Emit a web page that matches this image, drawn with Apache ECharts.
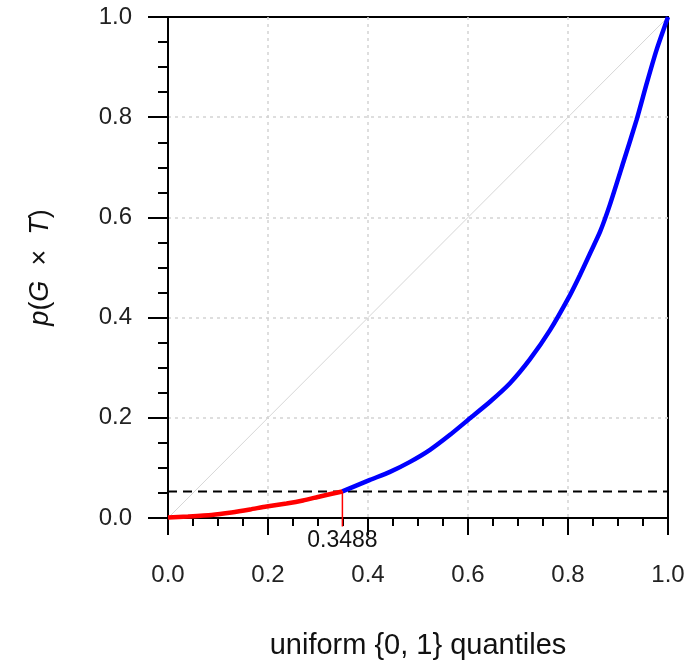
<!DOCTYPE html>
<html>
<head lang="en">
    <meta charset="UTF-8">
    <title>eCharts</title>
    <script type="text/javascript" src="https://cdn.jsdelivr.net/npm/echarts@6/dist/echarts.min.js"></script>
    <style>
        html, body { margin: 0; padding: 0; background: #fff; }
        #myChart { width: 696px; height: 662px; }
    </style>
</head>
<body>
<div id="myChart"></div>
<script type="text/javascript">
    /* 分位点 */
    var redX  = [0, 0.04, 0.087, 0.127, 0.164, 0.197, 0.237, 0.27, 0.304, 0.3488];
    var redY  = [0.001, 0.003, 0.006, 0.011, 0.017, 0.023, 0.029, 0.035, 0.043, 0.053];
    var blueX = [0.3488, 0.404, 0.444, 0.484, 0.524, 0.564, 0.604, 0.644, 0.684, 0.724, 0.764, 0.804, 0.824, 0.844, 0.864, 0.884, 0.911, 0.937, 0.957, 0.977, 1];
    var blueY = [0.053, 0.076, 0.092, 0.112, 0.136, 0.166, 0.199, 0.232, 0.269, 0.317, 0.375, 0.445, 0.485, 0.528, 0.571, 0.626, 0.711, 0.794, 0.866, 0.934, 1];
    var cutX = 0.3488;
    var cutY = 0.053;
    var tickLabels = ['0.0', '0.2', '0.4', '0.6', '0.8', '1.0'];

    function pairs(xs, ys) {
        var out = [];
        for (var i = 0; i < xs.length; i++) {
            out.push([xs[i], ys[i]]);
        }
        return out;
    }

    var font = 'Liberation Sans, Arial, sans-serif';
    var lbl = function (v) { return tickLabels[Math.round(v * 5)]; };
    var dotted = { show: true, showMinLine: false, showMaxLine: false,
                   lineStyle: { color: '#d4d4d4', width: 1.5, type: [3, 4] } };

    var myChart = echarts.init(document.getElementById('myChart'));
    myChart.setOption({
        animation: false,
        grid: {
            left: 168, right: 28, top: 17, bottom: 144,
            outerBoundsMode: 'none',
            show: true, borderColor: '#000', borderWidth: 2
        },
        xAxis: {
            type: 'value', min: 0, max: 1, interval: 0.2,
            name: 'uniform {0, 1} quantiles',
            nameLocation: 'middle', nameGap: 113,
            nameTextStyle: { fontFamily: font, fontSize: 29, color: '#111' },
            axisLine: { lineStyle: { color: '#000', width: 2 } },
            axisTick: { inside: false, length: 17, lineStyle: { color: '#000', width: 2 } },
            minorTick: { show: true, splitNumber: 4, length: 8, lineStyle: { color: '#000', width: 2 } },
            axisLabel: { margin: 45, fontFamily: font, fontSize: 24, color: '#222', formatter: lbl },
            splitLine: dotted
        },
        yAxis: {
            type: 'value', min: 0, max: 1, interval: 0.2,
            name: '{i|p}{n|(}{i|G}{n|  ×  }{i|T}{n|)}',
            nameLocation: 'middle', nameGap: 114, nameRotate: 90,
            nameTextStyle: {
                rich: {
                    i: { fontFamily: font, fontSize: 27, fontStyle: 'italic', color: '#111' },
                    n: { fontFamily: font, fontSize: 27, color: '#111' }
                }
            },
            axisLine: { lineStyle: { color: '#000', width: 2 } },
            axisTick: { inside: false, length: 20, lineStyle: { color: '#000', width: 2 } },
            minorTick: { show: true, splitNumber: 4, length: 10, lineStyle: { color: '#000', width: 2 } },
            axisLabel: { margin: 36, fontFamily: font, fontSize: 24, color: '#222', formatter: lbl },
            splitLine: dotted
        },
        series: [
            {   /* 对角线 */
                type: 'line', data: [[0, 0], [1, 1]], symbol: 'none', silent: true,
                lineStyle: { color: '#d6d6d6', width: 1 }
            },
            {   /* 水平虚线 */
                type: 'line', data: [[0, cutY], [1, cutY]], symbol: 'none', silent: true,
                lineStyle: { color: '#000', width: 2, type: [9, 6] }
            },
            {
                type: 'line', data: pairs(blueX, blueY), symbol: 'none', smooth: 0.2,
                lineStyle: { color: '#0000ff', width: 4.5 }
            },
            {
                type: 'line', data: pairs(redX, redY), symbol: 'none', smooth: 0.2,
                lineStyle: { color: '#ff0000', width: 4.5 }
            },
            {   /* 截断位置 */
                type: 'line', clip: false, symbol: 'none',
                data: [[cutX, cutY], [cutX, -0.017]],
                lineStyle: { color: '#ff0000', width: 1.5 }
            },
            {
                type: 'scatter', data: [[cutX, 0]], symbolSize: 0, silent: true,
                itemStyle: { opacity: 1 },
                label: {
                    show: true, formatter: '0.3488', position: 'bottom', distance: 11,
                    fontFamily: font, fontSize: 23, color: '#111', opacity: 1
                },
                emphasis: { disabled: true }
            }
        ]
    });
</script>
</body>
</html>
